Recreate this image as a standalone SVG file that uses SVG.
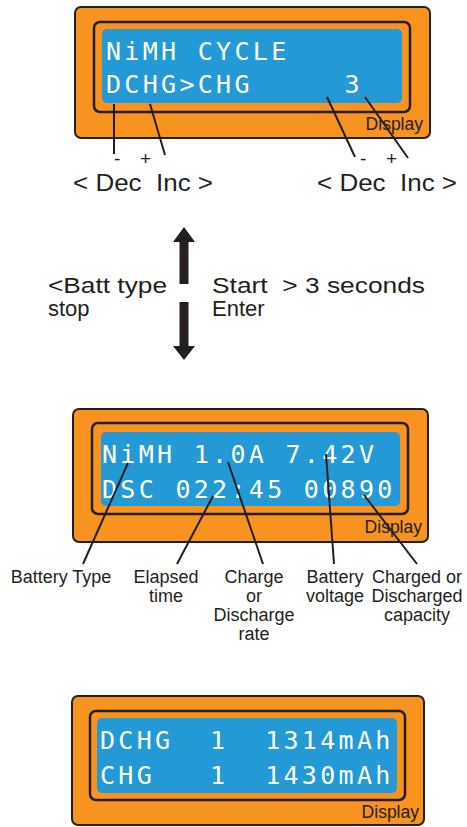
<svg xmlns="http://www.w3.org/2000/svg" width="467" height="827" viewBox="0 0 467 827">
<style>
.outer{fill:#F7931E;stroke:#231F20;stroke-width:2}
.inner{fill:none;stroke:#231F20;stroke-width:2.5}
.lcd{fill:#2399D6}
.lcdt{font-family:"DejaVu Sans Mono",monospace;font-size:25px;fill:#FFFFFF;letter-spacing:3.3px;white-space:pre}
.disp{font-family:"Liberation Sans",Arial,sans-serif;font-size:17.5px;fill:#231F20;text-anchor:end}
.lbl{font-family:"Liberation Sans",Arial,sans-serif;font-size:23px;fill:#231F20;white-space:pre}
.lbs{font-family:"Liberation Sans",Arial,sans-serif;font-size:22px;fill:#231F20;white-space:pre}
.pm{font-family:"Liberation Sans",Arial,sans-serif;font-size:19px;fill:#231F20}
.cap{font-family:"Liberation Sans",Arial,sans-serif;font-size:18px;fill:#231F20;text-anchor:middle}
.ln{stroke:#231F20;stroke-width:2;fill:none}
.arr{fill:#231F20}
</style>
<g id="display1">
<rect class="outer" x="75" y="7" width="355" height="131" rx="6"/>
<rect class="inner" x="94" y="22" width="316" height="90" rx="6"/>
<rect class="lcd" x="102" y="29" width="300" height="74" rx="5"/>
<text class="lcdt" x="106" y="60">NiMH CYCLE</text>
<text class="lcdt" x="106" y="93">DCHG&gt;CHG     3</text>
<text class="disp" x="423" y="130">Display</text>
</g>
<g id="labels1">
<text class="pm" x="114" y="165">-</text>
<text class="pm" x="140" y="165">+</text>
<text class="pm" x="360" y="165">-</text>
<text class="pm" x="386" y="165">+</text>
<text class="lbl" x="73" y="191" textLength="140" lengthAdjust="spacingAndGlyphs">&lt; Dec  Inc &gt;</text>
<text class="lbl" x="317" y="191" textLength="140" lengthAdjust="spacingAndGlyphs">&lt; Dec  Inc &gt;</text>
</g>
<g id="transitions">
<text class="lbs" x="48" y="293" textLength="119" lengthAdjust="spacingAndGlyphs">&lt;Batt type</text>
<text class="lbs" x="48" y="316">stop</text>
<text class="lbs" x="212" y="293" textLength="213" lengthAdjust="spacingAndGlyphs">Start  &gt; 3 seconds</text>
<text class="lbs" x="212" y="316">Enter</text>
</g>
<g id="display2">
<rect class="outer" x="73" y="409" width="355" height="133" rx="6"/>
<rect class="inner" x="92" y="423" width="316" height="91" rx="6"/>
<rect class="lcd" x="101" y="432" width="299" height="74" rx="5"/>
<text class="lcdt" x="102" y="463">NiMH 1.0A 7.42V</text>
<text class="lcdt" x="102" y="498">DSC 022:45 00890</text>
<text class="disp" x="422" y="533">Display</text>
</g>
<g id="labels2">
<text class="cap" x="61" y="583">Battery Type</text>
<text class="cap" x="166" y="583">Elapsed</text>
<text class="cap" x="166" y="602">time</text>
<text class="cap" x="254" y="583">Charge</text>
<text class="cap" x="254" y="602">or</text>
<text class="cap" x="254" y="621">Discharge</text>
<text class="cap" x="254" y="640">rate</text>
<text class="cap" x="335" y="583">Battery</text>
<text class="cap" x="335" y="602">voltage</text>
<text class="cap" x="417" y="583">Charged or</text>
<text class="cap" x="417" y="602">Discharged</text>
<text class="cap" x="417" y="621">capacity</text>
</g>
<g id="display3">
<rect class="outer" x="72" y="696" width="352" height="129" rx="6"/>
<rect class="inner" x="90" y="711" width="315" height="89" rx="6"/>
<rect class="lcd" x="97" y="718" width="300" height="75" rx="5"/>
<text class="lcdt" x="100" y="749">DCHG  1  1314mAh</text>
<text class="lcdt" x="100" y="784">CHG   1  1430mAh</text>
<text class="disp" x="419" y="818">Display</text>
</g>
<g id="connectors">
<line class="ln" x1="114" y1="104" x2="114" y2="154"/>
<line class="ln" x1="150" y1="104" x2="165" y2="155"/>
<line class="ln" x1="327" y1="97" x2="355" y2="157"/>
<line class="ln" x1="365" y1="97" x2="408" y2="158"/>
<path class="arr" d="M184,227 L195,242 L188.5,242 L188.5,284 L179.5,284 L179.5,242 L173,242 Z"/>
<path class="arr" d="M184,360 L195,346 L188.5,346 L188.5,302 L179.5,302 L179.5,346 L173,346 Z"/>
<line class="ln" x1="128" y1="463" x2="83" y2="564"/>
<line class="ln" x1="213" y1="496" x2="177" y2="564"/>
<line class="ln" x1="228" y1="462" x2="263" y2="564"/>
<line class="ln" x1="326" y1="454" x2="334" y2="564"/>
<line class="ln" x1="364" y1="495" x2="417" y2="564"/>
</g>
</svg>
